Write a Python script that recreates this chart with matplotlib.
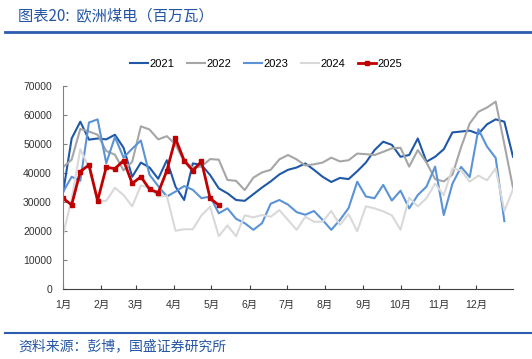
import matplotlib
matplotlib.use("Agg")
import matplotlib.pyplot as plt
from matplotlib.lines import Line2D

plt.rcParams['font.family'] = ['Liberation Sans', 'Noto Sans CJK SC', 'DejaVu Sans']

# weekly values (MW), week index 0..52
y2021 = [33100, 52000, 57800, 51600, 52000, 51700, 53300, 48800, 38800, 43700,
         42000, 38100, 44500, 35400, 30800, 43400, 42900, 39400, 34800, 33100,
         30800, 30500, 32800, 35100, 37200, 39600, 41200, 42000, 43400, 41200,
         38800, 37000, 38400, 38000, 40700, 43700, 48000, 50900, 49800, 45700,
         46300, 52000, 44000, 45700, 48300, 54100, 54400, 54700, 53600, 56900,
         58600, 57800, 45700]
y2022 = [42100, 44700, 55300, 54400, 53300, 47700, 46400, 41000, 44000, 56200,
         55100, 51700, 52800, 50000, 44000, 42000, 42300, 44900, 44700, 37700,
         37400, 34200, 38500, 40300, 41200, 44800, 46300, 44800, 42700, 43100,
         43700, 45400, 44100, 44500, 46800, 46600, 46300, 47400, 48600, 48800,
         42300, 48000, 43700, 38000, 37200, 39500, 49000, 57200, 61200, 62700,
         64700, 50000, 35000]
y2023 = [33500, 38800, 37400, 57500, 58600, 43500, 52500, 45400, 48500, 51300,
         39500, 35600, 32000, 33700, 35600, 34300, 31400, 32000, 26200, 27900,
         24300, 22800, 20500, 22800, 29500, 30800, 29200, 26600, 25700, 27000,
         23900, 20500, 23900, 28000, 37100, 32000, 31400, 36000, 30600, 34000,
         27900, 32500, 35400, 42300, 25600, 36400, 42200, 38700, 55200, 49200,
         45300, 23500]
y2024 = [18800, 31000, 48300, 42000, 30200, 30500, 35000, 32500, 28600, 35800,
         35000, 32000, 32200, 20200, 20700, 20700, 25500, 28500, 18300, 22000,
         18300, 25500, 24800, 25600, 25000, 27300, 23900, 20500, 25000, 23300,
         23300, 27000, 22200, 25900, 20000, 28600, 27900, 26900, 25500, 20500,
         31600, 28600, 31400, 36400, 32500, 41700, 41000, 37100, 39200, 37600,
         41700, 27000, 34500]
y2025 = [31400, 29100, 40600, 42900, 30600, 42100, 41600, 44400, 36500, 38800,
         34500, 33300, 40900, 52000, 44400, 40900, 44100, 31400, 29000]

month_labels = ['1月', '2月', '3月', '4月', '5月', '6月', '7月', '8月', '9月', '10月', '11月', '12月']
month_start_day = [0, 31, 59, 90, 120, 151, 181, 212, 243, 273, 304, 334]

fig = plt.figure(figsize=(5.32, 3.59), dpi=100)
ax = fig.add_axes([0.1184, 0.1942, 0.8459, 0.5654])

ax.plot(range(len(y2021)), y2021, color='#1f58a8', lw=1.5, label='2021')
ax.plot(range(len(y2022)), y2022, color='#a6a6a6', lw=1.5, label='2022')
ax.plot(range(len(y2023)), y2023, color='#5b93d6', lw=1.5, label='2023')
ax.plot(range(len(y2024)), y2024, color='#d9d9d9', lw=1.5, label='2024')
ax.plot(range(len(y2025)), y2025, color='#c00000', lw=2, marker='s', ms=3,
        label='2025')

ax.set_xlim(0, 52)
ax.set_ylim(0, 70000)
ax.set_yticks(range(0, 70001, 10000))
ax.set_xticks([d / 7 for d in month_start_day])
ax.set_xticklabels(month_labels, fontsize=7.5, color='#333333')
ax.tick_params(axis='y', labelsize=7.5, labelcolor='#333333', direction='in',
               length=3, color='#808080', pad=8)
ax.tick_params(axis='x', direction='in', length=3, color='#404040', pad=8)

for s in ['top', 'right']:
    ax.spines[s].set_visible(False)
ax.spines['left'].set_color('#808080')
ax.spines['bottom'].set_color('#404040')

fig.legend(loc='center', bbox_to_anchor=(0.5, 0.822), ncol=5, frameon=False,
           fontsize=8, handlelength=1.6, handletextpad=0.1, columnspacing=1.2)

# header / footer
fig.text(0.034, 0.955, '图表20:  欧洲煤电（百万瓦）', fontsize=11, color='#2456a4',
         va='center', ha='left', family=['Noto Sans CJK SC', 'DejaVu Sans'])
fig.add_artist(Line2D([0.01, 1.0], [0.912, 0.912], color='#2b5cad', lw=2))
fig.add_artist(Line2D([0.01, 1.0], [0.072, 0.072], color='#2b5cad', lw=1.5))
fig.text(0.034, 0.036, '资料来源：彭博，国盛证券研究所', fontsize=10, color='#2456a4',
         va='center', ha='left', family=['Noto Sans CJK SC', 'DejaVu Sans'])

fig.savefig('out.png', dpi=100)
